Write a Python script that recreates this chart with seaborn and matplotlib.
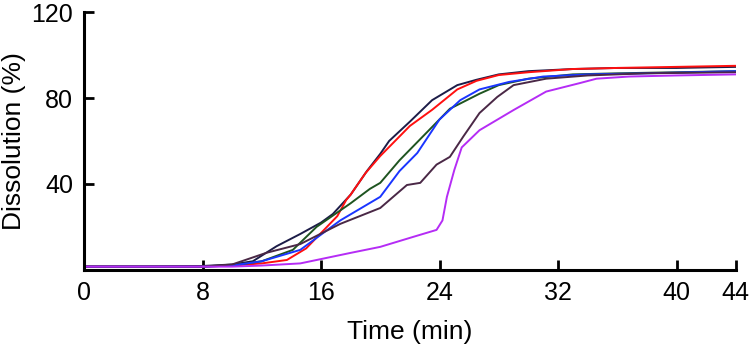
import numpy as np
import pandas as pd
import matplotlib
matplotlib.use("Agg")
import matplotlib.pyplot as plt
import seaborn as sns

# time (min) / dissolution (%)
navy_t = [0, 4, 8, 10, 11.4, 13, 14.6, 16, 16.8, 18, 19.1, 20, 20.6, 22, 23.5, 25.2, 26.5, 28, 30, 33, 36, 40, 44]
navy_y = [1.5, 1.5, 1.8, 2.5, 4, 11, 16.7, 22, 26, 35, 46, 54, 60, 69, 79, 86, 88.5, 91, 92.5, 93.5, 94, 94, 94.5]

red_t = [0, 4, 8, 10, 12, 13.7, 15, 16.4, 17.1, 17.7, 18, 19, 20, 21, 22, 23.5, 25.2, 26.5, 28, 30, 33, 36, 40, 44]
red_y = [1.5, 1.5, 1.5, 2, 3, 4.6, 10, 20, 25, 32.5, 35, 45, 53, 60, 67, 74.5, 84, 88, 90.7, 92, 93.5, 94, 94.5, 95]

green_t = [0, 8, 10, 12, 14.1, 15.7, 18, 19.3, 20, 21.3, 23.5, 24.7, 26.7, 28, 30, 33, 36, 40, 44]
green_y = [1.5, 1.5, 2, 4, 9.3, 20, 31, 37.7, 40.5, 51, 66.5, 75, 82, 86, 89, 91, 91.5, 92, 92.5]

blue_t = [0, 8, 10, 12, 14.6, 17.3, 20, 21.3, 22.5, 24, 25.4, 26.7, 28.7, 31, 34, 38, 44]
blue_y = [1.5, 1.5, 2, 4, 9.3, 23, 34, 46, 54.4, 70, 79, 84, 87.5, 90, 91, 91.5, 92.5]

purple_t = [0, 8, 10, 12.3, 14.6, 17.3, 20, 21.8, 22.7, 23.8, 24.7, 25.6, 26.7, 27.9, 29, 31.2, 34, 38, 44]
purple_y = [1.5, 1.5, 2.5, 7.9, 12, 21.4, 28.8, 39.5, 40.5, 49, 52.6, 62, 73, 80.5, 86, 89, 90.5, 91.5, 92]

magenta_t = [0, 8, 10, 12, 14.6, 18, 20, 22.2, 23.8, 24.2, 24.5, 25, 25.5, 26.7, 29, 31.2, 33.5, 34.6, 36.8, 40, 44]
magenta_y = [1.5, 1.5, 1.5, 2, 3, 7.9, 10.7, 15.3, 18.6, 23, 34, 46.5, 57, 65, 74.4, 83, 87, 89, 90, 90.5, 91]

series = {
    "navy": (navy_t, navy_y),
    "red": (red_t, red_y),
    "green": (green_t, green_y),
    "blue": (blue_t, blue_y),
    "purple": (purple_t, purple_y),
    "magenta": (magenta_t, magenta_y),
}
colors = {
    "navy": "#1c1c48",
    "red": "#ff1010",
    "green": "#1e5420",
    "blue": "#1a35ff",
    "purple": "#4a2846",
    "magenta": "#b52cf5",
}

rows = []
for name, (t, y) in series.items():
    for ti, yi in zip(t, y):
        rows.append((name, ti, yi))
df = pd.DataFrame(rows, columns=["run", "time", "dissolution"])


def main():
    sns.set_style("ticks")
    plt.rcParams["font.family"] = ["Liberation Sans", "DejaVu Sans"]
    plt.rcParams["text.color"] = "black"
    plt.rcParams["axes.labelcolor"] = "black"

    fig = plt.figure(figsize=(7.5, 3.56), dpi=100)
    ax = fig.add_axes([0.112, 0.242, 0.869, 0.724])

    sns.lineplot(data=df, x="time", y="dissolution", hue="run", palette=colors,
                 estimator=None, sort=False, legend=False, linewidth=1.4, ax=ax)

    ax.set_xlim(0, 44)
    ax.set_ylim(0, 120)
    ax.set_xticks([0, 8, 16, 24, 32, 40, 44])
    ax.set_yticks([40, 80, 120])
    ax.set_xlabel("Time (min)", fontsize=19, labelpad=11, color="black")
    ax.set_ylabel("Dissolution (%)", fontsize=19, labelpad=4, color="black")
    ax.tick_params(direction="in", length=7, width=2, labelsize=18, colors="black", pad=8)
    sns.despine(ax=ax)
    for s in ["left", "bottom"]:
        ax.spines[s].set_linewidth(2.2)
        ax.spines[s].set_color("black")

    fig.savefig("out.png", dpi=100)


if __name__ == '__main__':
    main()
